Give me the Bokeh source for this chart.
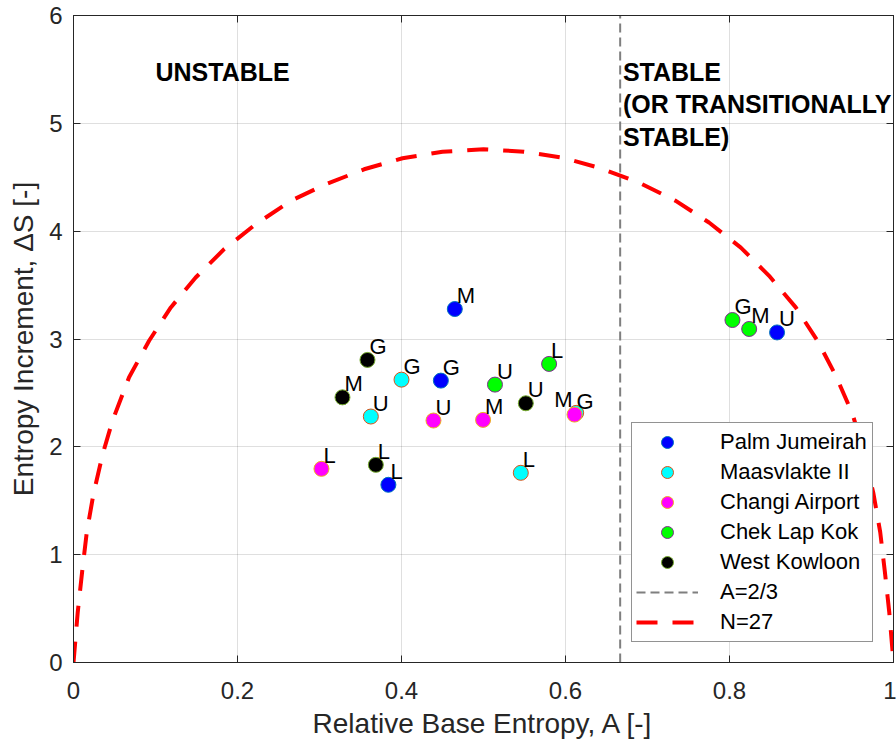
from bokeh.plotting import figure
from bokeh.models import (Range1d, LinearAxis, FixedTicker, CustomJSTickFormatter,
                          Legend, LegendItem, Label)
from bokeh.core.properties import value
from bokeh.embed import file_html
from bokeh.resources import INLINE

# ---------------- data ----------------
sites = ["Palm Jumeirah", "Maasvlakte II", "Changi Airport", "Chek Lap Kok", "West Kowloon"]
cases = ["L", "U", "M", "G"]

A_palm = [0.384, 0.858, 0.465, 0.448]
dS_palm = [1.648, 3.061, 3.278, 2.614]
A_maas = [0.5455, 0.3626, 0.613, 0.400]
dS_maas = [1.759, 2.281, 2.315, 2.623]
A_changi = [0.3024, 0.439, 0.4995, 0.611]
dS_changi = [1.796, 2.244, 2.250, 2.299]
A_chek = [0.580, 0.514, 0.824, 0.8036]
dS_chek = [2.769, 2.577, 3.093, 3.176]
A_wk = [0.3687, 0.5516, 0.328, 0.3585]
dS_wk = [1.833, 2.404, 2.459, 2.806]

# N=27 boundary curve
A_curve = [0.0, 0.0052, 0.0105, 0.0162, 0.0244, 0.0357, 0.0476, 0.0678, 0.0922, 0.1187,
           0.149, 0.1837, 0.2223, 0.265, 0.3077, 0.3544, 0.4012, 0.45, 0.5, 0.5495,
           0.5963, 0.643, 0.6898, 0.7345, 0.775, 0.8138, 0.8483, 0.8808, 0.9073, 0.9296,
           0.95, 0.9643, 0.9756, 0.9838, 0.9895, 0.9948, 1.0]
dS_curve = [0.0, 0.469, 0.839, 1.209, 1.565, 1.935, 2.243, 2.645, 2.984, 3.293,
            3.57, 3.833, 4.065, 4.281, 4.435, 4.574, 4.676, 4.737, 4.759, 4.737,
            4.682, 4.583, 4.45, 4.281, 4.08, 3.848, 3.586, 3.293, 2.984, 2.66,
            2.306, 1.935, 1.565, 1.209, 0.839, 0.469, 0.0]

# A = 2/3 threshold line
A_crit = [2 / 3, 2 / 3]
dS_crit = [0.0, 6.0]

x_ticks = [0, 0.2, 0.4, 0.6, 0.8, 1.0]
x_tick_labels = ["0", "0.2", "0.4", "0.6", "0.8", "1"]
y_ticks = [0, 1, 2, 3, 4, 5, 6]
y_tick_labels = ["0", "1", "2", "3", "4", "5", "6"]

# ---------------- style ----------------
FONT = "Liberation Sans"
AX = "#262626"
fills = ["#0000FF", "#00FFFF", "#FF00FF", "#00FF00", "#000000"]
edges = ["#0072BD", "#D95319", "#EDB120", "#7E2F8E", "#77AC30"]
label_shift = {("Maasvlakte II", "M"): -22}

p = figure(width=896, height=744, x_range=Range1d(0, 1), y_range=Range1d(0, 6),
           output_backend="svg", toolbar_location=None,
           min_border_left=73, min_border_right=3, min_border_top=15, min_border_bottom=82)
p.background_fill_color = "white"
p.border_fill_color = "white"
p.outline_line_color = AX
p.outline_line_width = 1

p.xaxis.ticker = FixedTicker(ticks=x_ticks)
p.xaxis.major_label_overrides = {t: l for t, l in zip(x_ticks, x_tick_labels)}
p.yaxis.ticker = FixedTicker(ticks=y_ticks)
p.yaxis.major_label_overrides = {t: l for t, l in zip(y_ticks, y_tick_labels)}
p.xaxis.axis_label = "Relative Base Entropy, A [-]"
p.yaxis.axis_label = "Entropy Increment, \u0394S [-]"

for ax in (p.xaxis[0], p.yaxis[0]):
    ax.axis_line_color = AX
    ax.major_tick_line_color = AX
    ax.major_tick_in = 7
    ax.major_tick_out = 0
    ax.minor_tick_line_color = None
    ax.major_label_text_font = FONT
    ax.major_label_text_font_size = "24px"
    ax.major_label_text_color = AX
    ax.axis_label_text_font = FONT
    ax.axis_label_text_font_size = "28px"
    ax.axis_label_text_font_style = "normal"
    ax.axis_label_text_color = AX
p.xaxis.major_label_standoff = 19
p.xaxis.axis_label_standoff = 6
p.yaxis.major_label_standoff = 11
p.yaxis.axis_label_standoff = 7

empty = CustomJSTickFormatter(code="return ''")
for loc, ticks in (("above", x_ticks), ("right", y_ticks)):
    a = LinearAxis(ticker=FixedTicker(ticks=ticks), formatter=empty)
    a.axis_line_color = AX
    a.major_tick_line_color = AX
    a.major_tick_in = 7
    a.major_tick_out = 0
    a.minor_tick_line_color = None
    a.major_label_text_font_size = "1px"
    a.major_label_standoff = 0
    p.add_layout(a, loc)

p.xgrid.ticker = FixedTicker(ticks=x_ticks)
p.ygrid.ticker = FixedTicker(ticks=y_ticks)
p.grid.grid_line_color = AX
p.grid.grid_line_alpha = 0.15
p.grid.grid_line_width = 1

# lines
r_crit = p.line(A_crit, dS_crit, line_color="#7f7f7f", line_width=2, line_dash="9 5")
r_curve = p.line(A_curve, dS_curve, line_color="#FF0000", line_width=4, line_dash="21 15")

# points
xs = [A_palm, A_maas, A_changi, A_chek, A_wk]
ys = [dS_palm, dS_maas, dS_changi, dS_chek, dS_wk]
site_renderers = []
for s, x, y, fc, ec in zip(sites, xs, ys, fills, edges):
    r = p.scatter(x, y, size=15, fill_color=fc, line_color=ec, line_width=1)
    site_renderers.append(r)

# point labels
for s, x, y in zip(sites, xs, ys):
    for c, xi, yi in zip(cases, x, y):
        dx = label_shift.get((s, c), 2)
        p.text(x=[xi], y=[yi], text=[c], x_offset=dx, y_offset=-13.5,
               text_font=value(FONT), text_font_size="22px", text_color="black",
               text_align="left", text_baseline="middle")

# region annotations
p.add_layout(Label(x=0.1, y=5.48, text="UNSTABLE", text_font=FONT, text_font_size="25px",
                   text_font_style="bold", text_color="black", text_baseline="middle"))
for yy, t in ((5.48, "STABLE"), (5.175, "(OR TRANSITIONALLY"), (4.875, "STABLE)")):
    p.add_layout(Label(x=0.67, y=yy, text=t, text_font=FONT, text_font_size="25px",
                       text_font_style="bold", text_color="black", text_baseline="middle"))

items = [LegendItem(label=s, renderers=[r]) for s, r in zip(sites, site_renderers)]
items.append(LegendItem(label="A=2/3", renderers=[r_crit]))
items.append(LegendItem(label="N=27", renderers=[r_curve]))
legend = Legend(items=items, location="bottom_right", margin=20,
                padding=4, spacing=0, glyph_height=30, glyph_width=62,
                label_standoff=22, label_width=148, label_height=30,
                label_text_font=FONT, label_text_font_size="22px", label_text_color="black",
                border_line_color=AX, border_line_width=1,
                background_fill_color="white", background_fill_alpha=1.0)
p.add_layout(legend, "center")

open("out.html", "w").write(file_html(p, INLINE))
